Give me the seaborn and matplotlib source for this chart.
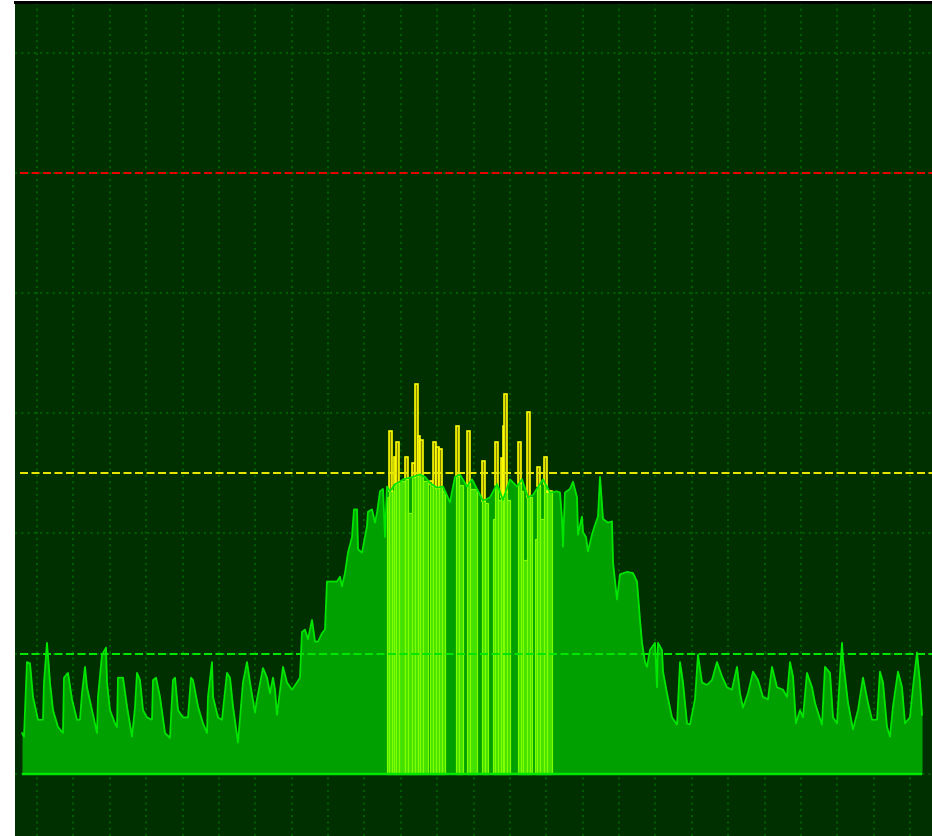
import numpy as np
import pandas as pd
import matplotlib
matplotlib.use("Agg")
import matplotlib.pyplot as plt
import seaborn as sns

# Averaged spectrum trace: FFT bin index and level in dBm (corner points of the trace)
trace_bin = [
    0, 2, 5, 8, 11, 16, 21, 22, 25, 28, 31, 36, 41, 42, 46, 50, 55, 58, 60, 63,
    65, 70, 75, 76, 80, 84, 85, 88, 93, 95, 96, 101, 105, 110, 113, 115, 118, 121, 125, 130,
    131, 134, 138, 143, 148, 151, 153, 156, 161, 166, 169, 171, 176, 181, 185, 186, 190, 191, 196, 200,
    205, 208, 211, 216, 221, 225, 228, 233, 235, 241, 245, 248, 251, 253, 255, 261, 265, 270, 275, 278,
    280, 283, 286, 290, 293, 296, 300, 303, 305, 315, 318, 320, 323, 326, 330, 332, 335, 336, 340, 345,
    346, 350, 353, 355, 358, 361, 363, 365, 368, 373, 378, 381, 391, 398, 403, 408, 415, 421, 428, 433,
    438, 445, 450, 455, 461, 468, 475, 481, 488, 495, 500, 506, 511, 521, 528, 535, 538, 540, 541, 543,
    548, 551, 555, 556, 560, 561, 564, 566, 570, 573, 576, 578, 581, 586, 590, 591, 595, 598, 605, 611,
    615, 616, 618, 620, 623, 625, 628, 633, 635, 636, 640, 641, 645, 650, 655, 658, 661, 665, 668, 673,
    676, 680, 685, 690, 695, 700, 705, 710, 715, 718, 721, 726, 731, 736, 741, 746, 750, 755, 761, 765,
    768, 771, 774, 778, 781, 785, 790, 793, 796, 800, 803, 808, 811, 815, 820, 821, 826, 831, 836, 841,
    846, 850, 855, 858, 861, 865, 868, 871, 876, 880, 883, 888, 891, 895, 898, 900,
]
trace_dbm = [
    -96.6, -96.9, -90.7, -90.8, -93.6, -95.5, -95.5, -92.4, -89.1, -92.4, -94.7, -96.1, -96.6, -92.0, -91.6, -93.8, -95.5, -95.5, -93.3, -91.1,
    -92.8, -94.7, -96.6, -93.6, -90.1, -89.5, -92.4, -94.7, -95.8, -96.1, -92.0, -92.0, -94.4, -96.9, -94.5, -91.6, -92.2, -94.7, -95.3, -95.5,
    -92.2, -92.0, -93.6, -96.6, -97.0, -92.2, -92.0, -94.7, -95.3, -95.3, -92.0, -92.2, -94.4, -95.8, -96.6, -93.6, -90.7, -93.6, -95.3, -95.5,
    -91.6, -92.0, -94.4, -97.4, -92.4, -90.7, -92.4, -94.9, -93.8, -91.2, -92.0, -93.3, -92.0, -93.0, -95.1, -91.1, -92.4, -93.0, -92.4, -92.0,
    -88.2, -88.0, -88.8, -87.2, -89.0, -89.0, -88.3, -88.0, -84.0, -84.0, -83.6, -84.4, -83.3, -81.6, -80.3, -78.0, -78.0, -81.3, -81.6, -79.4,
    -78.2, -78.0, -79.1, -78.3, -76.5, -76.3, -80.3, -76.1, -76.5, -75.9, -75.7, -75.5, -75.3, -75.1, -75.3, -75.8, -76.2, -76.1, -77.4, -75.3,
    -75.1, -76.1, -75.5, -76.3, -77.3, -77.0, -75.9, -77.2, -75.5, -76.1, -75.5, -77.0, -76.8, -75.5, -76.6, -76.5, -76.6, -78.8, -81.1, -76.6,
    -76.3, -75.7, -77.0, -80.1, -78.6, -79.9, -80.3, -81.5, -80.1, -79.3, -78.6, -75.3, -78.8, -79.1, -79.0, -82.4, -85.5, -83.4, -83.2, -83.3,
    -84.0, -85.1, -87.2, -89.1, -90.7, -91.1, -89.7, -89.1, -92.8, -89.1, -89.7, -91.5, -93.3, -95.3, -95.9, -90.7, -92.4, -95.8, -95.9, -93.8,
    -90.1, -92.4, -92.6, -92.2, -90.7, -91.9, -92.8, -93.0, -91.1, -93.3, -94.5, -93.3, -91.5, -92.2, -93.6, -93.8, -91.1, -92.8, -93.0, -93.6,
    -90.7, -91.9, -95.8, -94.7, -95.3, -91.6, -92.8, -94.1, -94.9, -95.9, -91.1, -91.6, -95.3, -95.8, -89.1, -90.5, -94.1, -96.3, -94.7, -92.0,
    -94.1, -95.5, -95.5, -91.5, -92.4, -96.1, -96.9, -94.4, -91.5, -92.8, -95.8, -95.3, -92.8, -89.9, -92.4, -95.1,
]

# Burst activity in the middle of the band: bin span and peak level (dBm)
burst_start = [365, 367, 370, 372, 374, 377, 383, 386, 390, 393, 396, 398, 401, 408,
               411, 414, 417, 420, 434, 437, 445, 448, 460, 463, 471, 473, 476, 479,
               481, 482, 485, 496, 499, 501, 505, 508, 513, 515, 518, 522, 525]
burst_end = [367, 370, 372, 374, 377, 383, 386, 390, 393, 396, 398, 401, 406, 411,
             414, 417, 420, 423, 437, 441, 448, 455, 463, 466, 473, 476, 479, 481,
             482, 485, 488, 499, 501, 505, 508, 510, 515, 518, 522, 525, 530]
burst_dbm = [-77.0, -71.5, -76.5, -73.6, -72.4, -75.6, -73.6, -78.3, -74.1, -67.6, -71.9,
             -72.2, -75.6, -75.6, -72.4, -72.8, -73.0, -76.5, -71.1, -76.0, -71.5, -76.3,
             -74.0, -77.5, -78.8, -72.4, -77.2, -73.7, -71.1, -68.4, -77.2, -72.4, -76.5,
             -82.2, -69.9, -77.0, -80.5, -74.5, -78.8, -73.6, -76.5]

FLOOR_DBM = -100
LIMIT_ALARM = -50
LIMIT_WARN = -75
LIMIT_NOISE = -90
LEVEL_GRID = [-100, -90, -80, -70, -60, -50, -40]
BIN_GRID = np.linspace(15, 888, 25)

sns.set_style("dark")
plt.rcParams["lines.scale_dashes"] = False

PX = 72 / 100  # points per pixel at 100 dpi

fig = plt.figure(figsize=(9.32, 8.36), dpi=100, facecolor="white")
ax = fig.add_axes([15 / 932, 0, 1 - 15 / 932, 1 - 1.5 / 836])
ax.set_facecolor("#003000")

# dotted scope graticule
dot = (0, (2 * PX, 4.3 * PX))
for xg in BIN_GRID:
    ax.axvline(xg, color="#006a00", lw=1.6 * PX, ls=dot, zorder=1)
for yg in LEVEL_GRID:
    ax.axhline(yg, color="#006a00", lw=1.6 * PX, ls=dot, zorder=1)

trace = pd.DataFrame({"bin": trace_bin, "dbm": trace_dbm})

# filled average trace
ax.fill_between(trace["bin"], FLOOR_DBM, trace["dbm"], color="#00a000", lw=0, zorder=2)

# burst bars: green below the average trace, yellow where they rise above it
left = np.array(burst_start, dtype=float)
width = np.array(burst_end, dtype=float) - left
peak = np.array(burst_dbm)
avg_here = np.interp(left + width / 2, trace["bin"], trace["dbm"])
low_top = np.minimum(peak, avg_here)
ax.bar(left, low_top - FLOOR_DBM, width=width, bottom=FLOOR_DBM, align="edge",
       color="#44e000", edgecolor="#80ff00", linewidth=1.2 * PX, zorder=3)
above = peak > avg_here
ax.bar(left[above], (peak - avg_here)[above], width=width[above], bottom=avg_here[above],
       align="edge", color="#858500", edgecolor="#ffff00", linewidth=1.6 * PX, zorder=4)

# outline of the average trace
sns.lineplot(data=trace, x="bin", y="dbm", color="#00e600", lw=1.8 * PX,
             sort=False, estimator=None, ax=ax, zorder=5)

# floor line
ax.hlines(FLOOR_DBM, trace_bin[0], trace_bin[-1], color="#00e600", lw=2.5 * PX, zorder=6)

# limit lines
dash = (0, (8 * PX, 3.5 * PX))
x_end = 915
ax.hlines(LIMIT_ALARM, -2, x_end, color="#e80000", lw=2 * PX, ls=dash, zorder=6)
ax.hlines(LIMIT_WARN, -2, x_end, color="#e6e600", lw=2 * PX, ls=dash, zorder=6)
ax.hlines(LIMIT_NOISE, -2, x_end, color="#00e600", lw=2 * PX, ls=dash, zorder=6)

ax.set_xlim(-7, 910)
ax.set_ylim(FLOOR_DBM - 62 / 12, FLOOR_DBM + 771 / 12)
ax.set_xlabel("")
ax.set_ylabel("")
ax.tick_params(left=False, bottom=False, labelleft=False, labelbottom=False)
ax.grid(False)
for side in ["left", "right", "bottom"]:
    ax.spines[side].set_visible(False)
ax.spines["top"].set_visible(True)
ax.spines["top"].set_color("black")
ax.spines["top"].set_linewidth(3 * PX)

fig.savefig("out.png", dpi=100, facecolor="white")
